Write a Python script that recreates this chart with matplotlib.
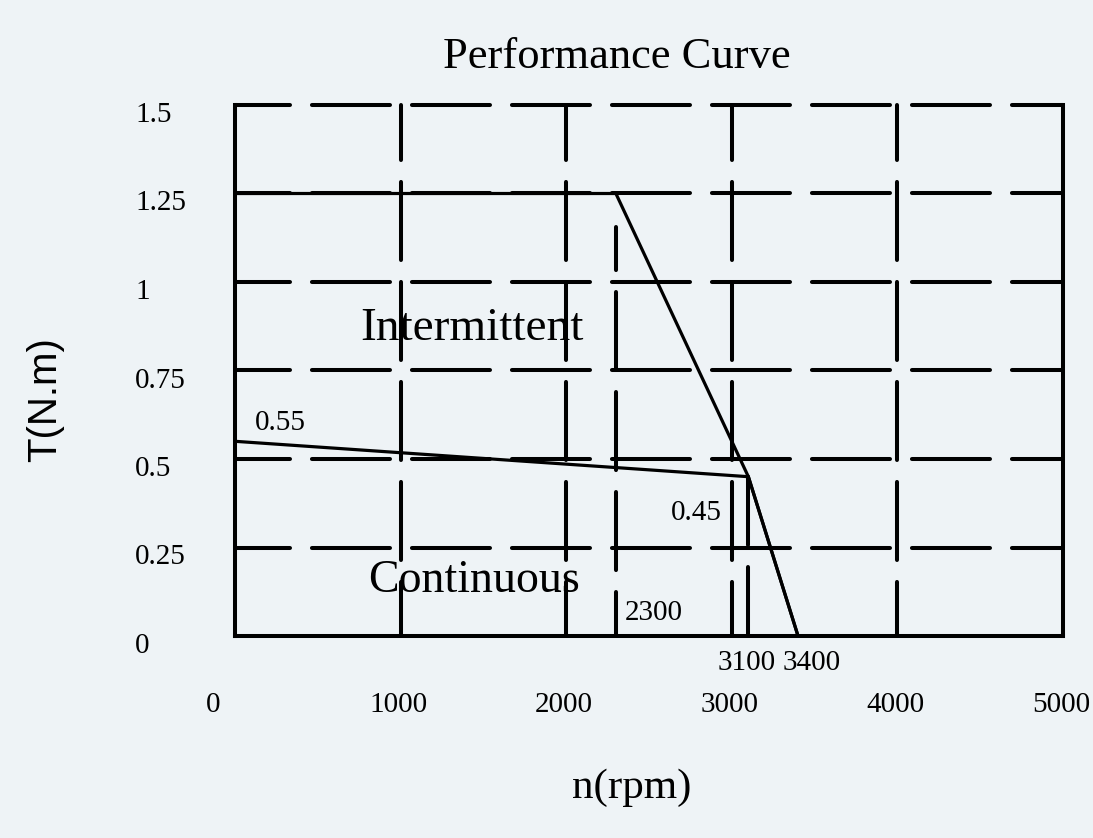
import matplotlib
matplotlib.use('Agg')
import matplotlib.pyplot as plt
import matplotlib.transforms as mtransforms


# 性能曲线 (扭矩-转速)

# 坐标轴刻度
x_ticks = [0, 1000, 2000, 3000, 4000, 5000]
x_tick_labels = ['0', '1000', '2000', '3000', '4000', '5000']
y_ticks = [0, 0.25, 0.5, 0.75, 1, 1.25, 1.5]
y_tick_labels = ['0', '0.25', '0.5', '0.75', '1', '1.25', '1.5']

# 间歇区边界 (Intermittent)
inter_n = [0, 2300, 3100, 3400]
inter_t = [1.25, 1.25, 0.45, 0]

# 连续区边界 (Continuous)
cont_n = [0, 3100, 3400]
cont_t = [0.55, 0.45, 0]

# 辅助竖线
mark_2300_n = 2300
mark_2300_top = 1.155
mark_3100_n = 3100
mark_3100_top = 0.45

bg = '#eef3f6'
serif = 'Liberation Serif'

plt.rcParams['lines.scale_dashes'] = False

fig = plt.figure(figsize=(10.93, 8.38), dpi=100, facecolor=bg)
ax = fig.add_axes([235 / 1093, 1 - 636 / 838, 828 / 1093, 531 / 838])
ax.set_facecolor(bg)
ax.set_xlim(0, 5000)
ax.set_ylim(0, 1.5)
ax.set_xticks([])
ax.set_yticks([])


def px(dx, dy):
    # 像素偏移
    return mtransforms.ScaledTranslation(dx / 100, dy / 100, fig.dpi_scale_trans)


# 虚线网格: 线段 78px, 间隔 22px (圆头)
dash = (56.2, 15.8)
grid_kw = dict(color='black', lw=2.9, dash_capstyle='round', clip_on=False, zorder=1)
for v in x_ticks[1:-1]:
    ax.plot([v, v], [1.5, 0], linestyle=(16.6, dash), **grid_kw)
for v in y_ticks[1:]:
    ax.plot([0, 5000], [v, v], linestyle=(16.6, dash), **grid_kw)

# 2300 与 3100 处的竖线
ax.plot([mark_2300_n, mark_2300_n], [mark_2300_top, 0], linestyle=(25.2, dash), **grid_kw)
ax.plot([mark_3100_n, mark_3100_n], [mark_3100_top, 0], linestyle=(7.2, dash), **grid_kw)

# 曲线
curve_kw = dict(color='black', lw=2.3, solid_joinstyle='miter', clip_on=False, zorder=3)
ax.plot(inter_n, inter_t, **curve_kw)
ax.plot(cont_n, cont_t, **curve_kw)

# 边框: 上边不画
for side in ['left', 'bottom', 'right']:
    ax.spines[side].set_linewidth(2.9)
    ax.spines[side].set_zorder(4)
ax.spines['top'].set_visible(False)

# 刻度标签
xtrans = mtransforms.blended_transform_factory(ax.transData, ax.transAxes)
for v, s in zip(x_ticks, x_tick_labels):
    shift = -22 if v == 0 else -2
    ax.text(v, 0, s, transform=xtrans + px(shift, -76), ha='center', va='baseline',
            family=serif, fontsize=21)

ytrans = mtransforms.blended_transform_factory(ax.transAxes, ax.transData)
for v, s in zip(y_ticks, y_tick_labels):
    ax.text(-100 / 828, v, s, transform=ytrans + px(0, -17), ha='left', va='baseline',
            family=serif, fontsize=21)

# 标注
num_kw = dict(family=serif, fontsize=21, va='baseline')
ax.text(120, 0.582, '0.55', ha='left', **num_kw)
ax.text(2941, 0.328, '0.45', ha='right', **num_kw)
ax.text(2355, 0.045, '2300', ha='left', **num_kw)
ax.text(3092, -0.096, '3100', ha='center', **num_kw)
ax.text(3484, -0.096, '3400', ha='center', **num_kw)

ax.text(1431, 0.836, 'Intermittent', ha='center', va='baseline', family=serif, fontsize=34, zorder=5)
ax.text(1443, 0.124, 'Continuous', ha='center', va='baseline', family=serif, fontsize=33, zorder=5)

# 标题与轴名
fig.text(617 / 1093, 1 - 68 / 838, 'Performance Curve', ha='center', va='baseline',
         family=serif, fontsize=32)
fig.text(632 / 1093, 1 - 798 / 838, 'n(rpm)', ha='center', va='baseline',
         family=serif, fontsize=31)
fig.text(45 / 1093, 1 - 400 / 838, 'T(N.m)', rotation=90, ha='center', va='center',
         family='Liberation Sans', fontsize=29)

fig.savefig('out.png', dpi=100, facecolor=bg)
